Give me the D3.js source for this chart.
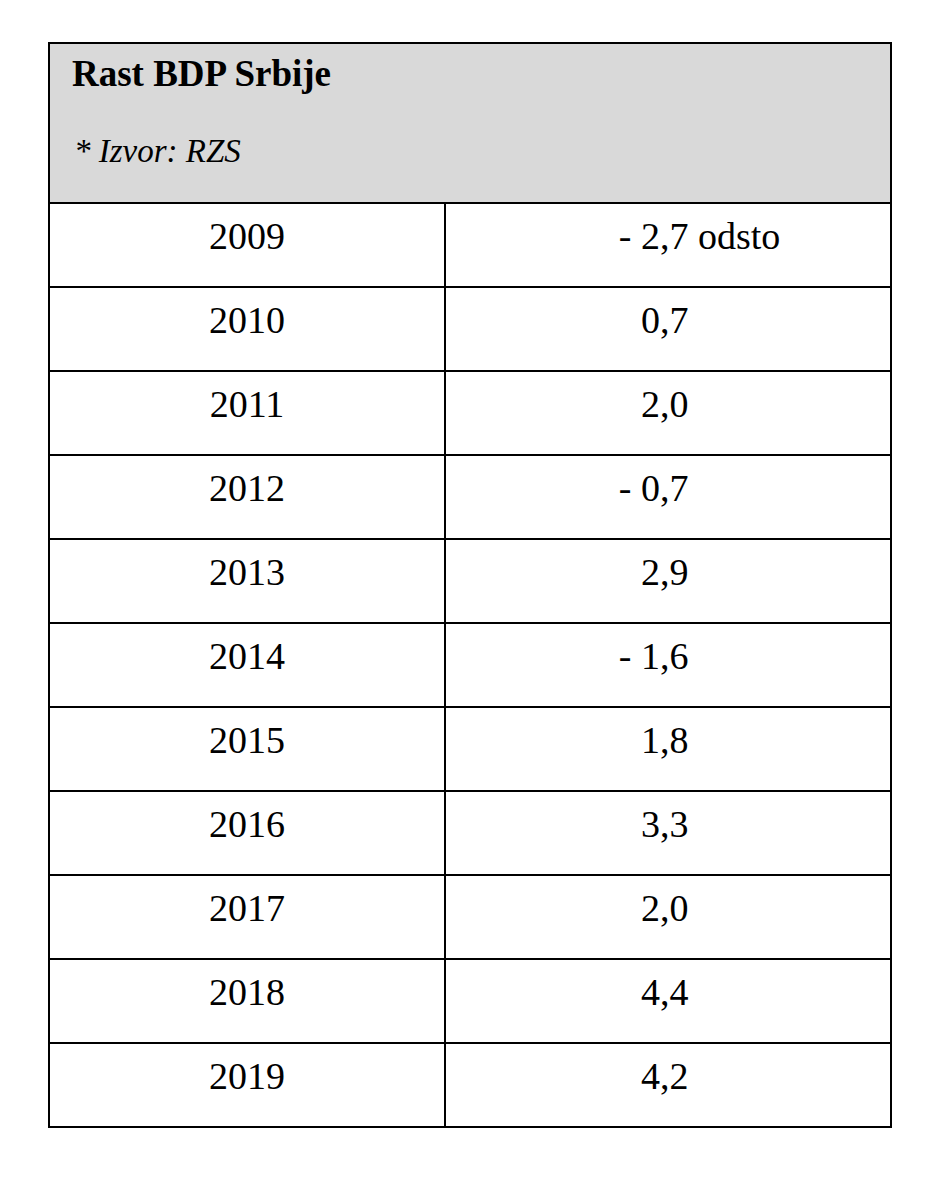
<!DOCTYPE html>
<html><head><meta charset="utf-8">
<script src="https://cdn.jsdelivr.net/npm/d3@7"></script>
<style>body{margin:0;background:#fff}</style></head>
<body><script>
var years = ["2009","2010","2011","2012","2013","2014","2015","2016","2017","2018","2019"];
var growth = [-2.7, 0.7, 2.0, -0.7, 2.9, -1.6, 1.8, 3.3, 2.0, 4.4, 4.2];
var title = "Rast BDP Srbije";
var source = "* Izvor: RZS";

var svg = d3.select("body").append("svg").attr("width", 940).attr("height", 1177);
var tLeft = 49, tRight = 891, tMid = 445, tTop = 43, headBottom = 203, tBottom = 1127;
var font = "'Liberation Serif', 'Times New Roman', serif";

// header
svg.append("rect").attr("x", tLeft).attr("y", tTop).attr("width", tRight - tLeft)
  .attr("height", headBottom - tTop).attr("fill", "#d9d9d9");
svg.append("text").attr("x", 72).attr("y", 86).attr("font-family", font)
  .attr("font-weight", "bold").attr("font-size", 37).text(title);
svg.append("text").attr("x", 74).attr("y", 162).attr("font-family", font)
  .attr("font-style", "italic").attr("font-size", 33).text(source);

var y = d3.scaleBand().domain(years).range([headBottom, tBottom]);
var fmt = function(v){ return d3.format(".1f")(Math.abs(v)).replace(".", ","); };

var row = svg.selectAll("g.row").data(years).enter().append("g").attr("class", "row")
  .attr("transform", function(d){ return "translate(0," + y(d) + ")"; });
row.append("line").attr("x1", tLeft).attr("x2", tRight).attr("y1", 0).attr("y2", 0)
  .attr("stroke", "#000").attr("stroke-width", 2);
row.append("text").attr("x", (tLeft + tMid) / 2).attr("y", y.bandwidth() / 2 + 4)
  .attr("text-anchor", "middle").attr("font-family", font).attr("font-size", 38)
  .text(function(d){ return d; });
row.append("text").attr("x", 641).attr("y", y.bandwidth() / 2 + 4)
  .attr("font-family", font).attr("font-size", 38)
  .text(function(d, i){ return fmt(growth[i]) + (i === 0 ? " odsto" : ""); });
row.append("text").attr("x", 641).attr("y", y.bandwidth() / 2 + 4)
  .attr("text-anchor", "end").attr("font-family", font).attr("font-size", 38)
  .text(function(d, i){ return growth[i] < 0 ? "-\u00a0" : ""; });

// frame
svg.append("rect").attr("x", tLeft).attr("y", tTop).attr("width", tRight - tLeft)
  .attr("height", tBottom - tTop).attr("fill", "none").attr("stroke", "#000").attr("stroke-width", 2);
svg.append("line").attr("x1", tMid).attr("x2", tMid).attr("y1", headBottom).attr("y2", tBottom)
  .attr("stroke", "#000").attr("stroke-width", 2);
</script></body></html>
